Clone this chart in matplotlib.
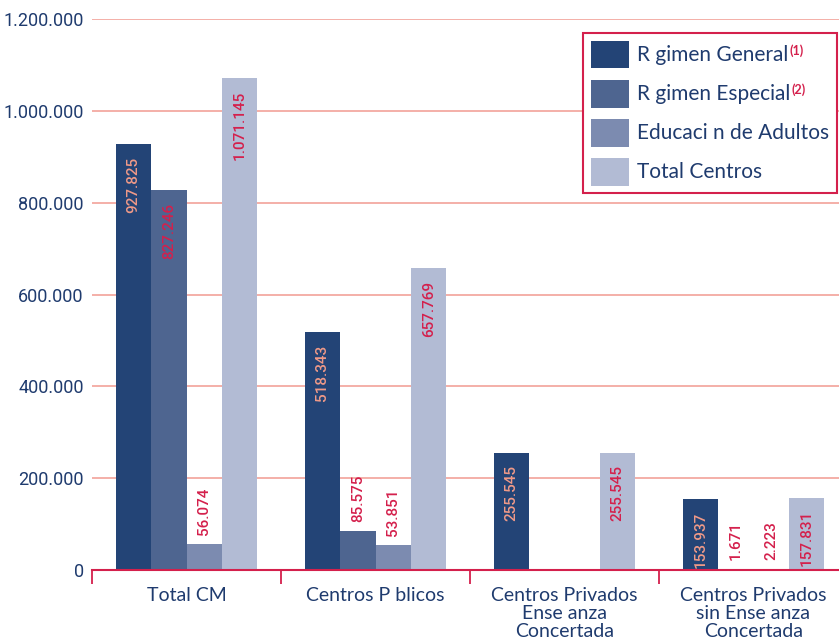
import numpy as np
import matplotlib
matplotlib.use('Agg')
import matplotlib.pyplot as plt
from matplotlib.ticker import FuncFormatter, FixedLocator

# data
categories = ['Total CM', 'Centros P blicos',
              'Centros Privados\nEnse anza\nConcertada',
              'Centros Privados\nsin Ense anza\nConcertada']
series_names = ['R gimen General', 'R gimen Especial',
                'Educaci n de Adultos', 'Total Centros']
series_notes = ['(1)', '(2)', '', '']
regimenGeneral = [927825, 518343, 255545, 153937]
regimenEspecial = [827246, 85575, 0, 1671]
educAdultos = [56074, 53851, 0, 2223]
totalCentros = [1071145, 657769, 255545, 157831]
yTicks = [0, 200000, 400000, 600000, 800000, 1000000, 1200000]

series = [regimenGeneral, regimenEspecial, educAdultos, totalCentros]
barColors = ['#234476', '#4e6590', '#7c8bb0', '#b2bbd4']
labelColors = ['#f09a88', '#d4204c', '#d4204c', '#d4204c']
navy = '#1f3b6e'
crimson = '#d4204c'
gridColor = '#f2a29a'

fig = plt.figure(figsize=(8.39, 6.42), dpi=100)
ax = fig.add_axes([92 / 839, 72 / 642, 1 - 92 / 839, (570 - 19) / 642])

x = np.arange(len(categories))
barWidth = 0.1875
for i, vals in enumerate(series):
    pos = x + (i - 1.5) * barWidth
    ax.bar(pos, vals, width=barWidth, color=barColors[i], label=series_names[i], zorder=3)
    for xp, v in zip(pos, vals):
        if v == 0:
            continue
        txt = f'{v:,}'.replace(',', '.')
        if v > 100000:
            ax.annotate(txt, (xp, v), xytext=(0, -9), textcoords='offset points',
                        rotation=90, ha='center', va='top', color=labelColors[i],
                        fontsize=11, family='Roboto', fontweight='medium', zorder=4)
        else:
            ax.annotate(txt, (xp, v), xytext=(0, 6.5), textcoords='offset points',
                        rotation=90, ha='center', va='bottom', color=crimson,
                        fontsize=11, family='Roboto', fontweight='medium', zorder=4)

ax.set_xlim(-0.5, -0.5 + 747 / 189)
ax.set_ylim(0, 1200000)
ax.set_yticks(yTicks)
ax.yaxis.set_major_formatter(FuncFormatter(lambda v, p: f'{int(v):,}'.replace(',', '.')))
ax.tick_params(axis='y', length=0, pad=6, labelsize=13, labelcolor=navy)
for lbl in ax.get_yticklabels():
    lbl.set_family('Roboto')
ax.yaxis.grid(True, color=gridColor, linewidth=1.2, zorder=0)
ax.set_axisbelow(True)

ax.set_xticks(x)
ax.set_xticklabels(categories, fontsize=14, color=navy, family='Lato', linespacing=1.1)
ax.xaxis.set_minor_locator(FixedLocator(np.arange(-0.5, 4, 1)))
ax.tick_params(axis='x', which='major', length=0, pad=12)
ax.tick_params(axis='x', which='minor', length=10, width=1.3, color=crimson, direction='out')

for s in ['left', 'top', 'right']:
    ax.spines[s].set_visible(False)
ax.spines['bottom'].set_color(crimson)
ax.spines['bottom'].set_linewidth(1.5)
ax.spines['bottom'].set_zorder(5)

leg = ax.legend(loc='upper right', bbox_to_anchor=(837 / 839, 1 - 33 / 642),
                bbox_transform=fig.transFigure, fancybox=False, framealpha=1,
                edgecolor=crimson, handlelength=1.87, handleheight=1.69,
                labelspacing=0.53, handletextpad=0.38, borderpad=0.36,
                borderaxespad=0, prop={'family': 'Lato', 'size': 15})
leg.get_frame().set_linewidth(1.5)
for t in leg.get_texts():
    t.set_color(navy)

# superscript notes after the legend labels
fig.canvas.draw()
renderer = fig.canvas.get_renderer()
inv = fig.transFigure.inverted()
for t, note in zip(leg.get_texts(), series_notes):
    if not note:
        continue
    bb = t.get_window_extent(renderer)
    fx, fy = inv.transform((bb.x1 + 1, bb.y1 + 1))
    fig.text(fx, fy, note, color=crimson, fontsize=9, fontweight='bold',
             family='Lato', ha='left', va='top', zorder=10)

fig.savefig('out.png', dpi=100)
